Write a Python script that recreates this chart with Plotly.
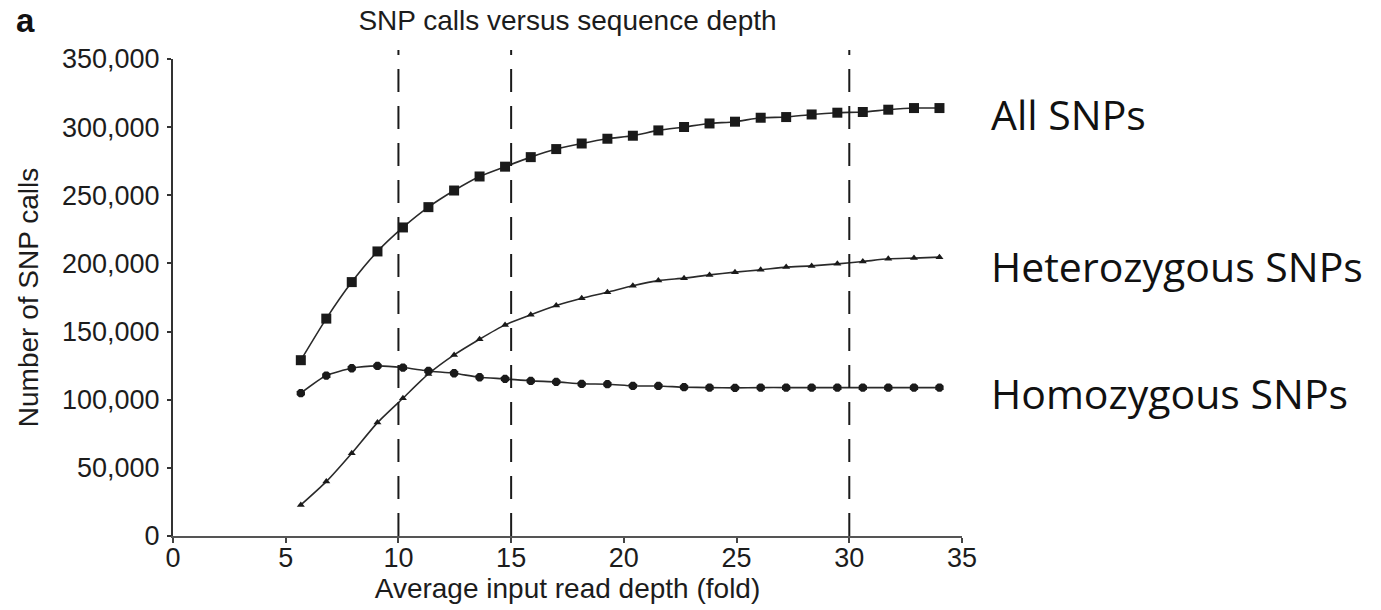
import plotly.graph_objects as go

# ---- data ----
depth = [5.67, 6.8, 7.93, 9.07, 10.2, 11.33, 12.47, 13.6, 14.73, 15.87, 17.0, 18.13,
         19.27, 20.4, 21.53, 22.67, 23.8, 24.93, 26.07, 27.2, 28.33, 29.47, 30.6,
         31.73, 32.87, 34.0]

all_snps = [129000, 159500, 186300, 208800, 226400, 241300, 253500, 263800, 271000,
            278000, 283900, 288000, 291500, 293700, 297600, 300100, 302700, 304000,
            306900, 307400, 309300, 310600, 311100, 312800, 314000, 314000]

het_snps = [22800, 39900, 60700, 83200, 101100, 118900, 132900, 144400, 154900,
            162300, 169100, 174500, 178900, 183600, 187400, 189200, 191600, 193600,
            195300, 197300, 198200, 199700, 201400, 203400, 203900, 204600]

hom_snps = [104800, 117700, 123100, 124800, 123600, 121100, 119400, 116500, 115300,
            113800, 113100, 111600, 111400, 110100, 110100, 109200, 108900, 108700,
            108900, 108900, 108900, 108900, 108900, 108900, 108900, 108900]

cutoff_depths = [10, 15, 30]

x_ticks = [0, 5, 10, 15, 20, 25, 30, 35]
y_ticks = [0, 50000, 100000, 150000, 200000, 250000, 300000, 350000]

series_labels = ["All SNPs", "Heterozygous SNPs", "Homozygous SNPs"]

# ---- figure ----
W, H = 1381, 610
ML, MR, MT, MB = 173, 419, 59, 74
PW = W - ML - MR
PH = H - MT - MB

def px_to_paper_x(px):
    return (px - ML) / PW

def px_to_paper_y(py):
    return (H - MB - py) / PH

ink = "#1c1c1c"
fig = go.Figure()

fig.add_trace(go.Scatter(
    x=depth, y=all_snps, mode="lines+markers", name=series_labels[0],
    line=dict(color="#2a2a2a", width=1.6, shape="spline", smoothing=0.6),
    marker=dict(symbol="square", size=10, color="#1a1a1a")))
fig.add_trace(go.Scatter(
    x=depth, y=het_snps, mode="lines+markers", name=series_labels[1],
    line=dict(color="#2a2a2a", width=1.6, shape="spline", smoothing=0.6),
    marker=dict(symbol="triangle-up", size=7, color="#1a1a1a")))
fig.add_trace(go.Scatter(
    x=depth, y=hom_snps, mode="lines+markers", name=series_labels[2],
    line=dict(color="#2a2a2a", width=1.6, shape="spline", smoothing=0.6),
    marker=dict(symbol="octagon", size=9, color="#1a1a1a")))

for d in cutoff_depths:
    fig.add_shape(type="line", xref="x", yref="paper", x0=d, x1=d,
                  y0=0, y1=px_to_paper_y(50),
                  line=dict(color="#1a1a1a", width=2, dash="23px,14px"),
                  layer="above")

label_y_px = [114.5, 266, 392.5]
for lab, py in zip(series_labels, label_y_px):
    fig.add_annotation(text=lab, xref="paper", yref="paper",
                       x=px_to_paper_x(989), y=px_to_paper_y(py),
                       xanchor="left", yanchor="middle", showarrow=False,
                       font=dict(family="Open Sans", size=41, color="#111111"))

fig.add_annotation(text="<b>a</b>", xref="paper", yref="paper",
                   x=px_to_paper_x(14), y=px_to_paper_y(20),
                   xanchor="left", yanchor="middle", showarrow=False,
                   font=dict(family="Liberation Sans", size=33, color="#111111"))

fig.update_layout(
    width=W, height=H,
    margin=dict(l=ML, r=MR, t=MT, b=MB),
    paper_bgcolor="white", plot_bgcolor="white",
    showlegend=False,
    font=dict(family="Liberation Sans, Arial", color=ink),
    title=dict(text="SNP calls versus sequence depth", x=0.5, xref="paper",
               xanchor="center", y=1 - 20 / H, yref="container", yanchor="middle",
               automargin=False,
               font=dict(family="Liberation Sans, Arial", size=28, color=ink)),
)

fig.update_xaxes(
    range=[0, 35], tickvals=x_ticks, ticktext=[str(v) for v in x_ticks],
    automargin=False,
    showgrid=False, zeroline=False, showline=True, linecolor="#555555", linewidth=2,
    ticks="outside", ticklen=5, tickwidth=2, tickcolor="#444444",
    ticklabelstandoff=-8,
    tickfont=dict(size=27, color=ink),
    title=dict(text="Average input read depth (fold)", font=dict(size=28, color=ink),
               standoff=6),
)
fig.update_yaxes(
    range=[0, 350000], tickvals=y_ticks, tickformat=",d",
    automargin=False,
    showgrid=False, zeroline=False, showline=True, linecolor="#333333", linewidth=2,
    ticks="outside", ticklen=4, tickwidth=2, tickcolor="#333333",
    ticklabelstandoff=2,
    tickfont=dict(size=27, color=ink),
    title=dict(text="Number of SNP calls", font=dict(size=28, color=ink), standoff=15),
)

fig.write_html("out.html",
               config={"displayModeBar": False},
               post_script="document.body.style.margin='0';document.body.style.overflow='hidden';")
